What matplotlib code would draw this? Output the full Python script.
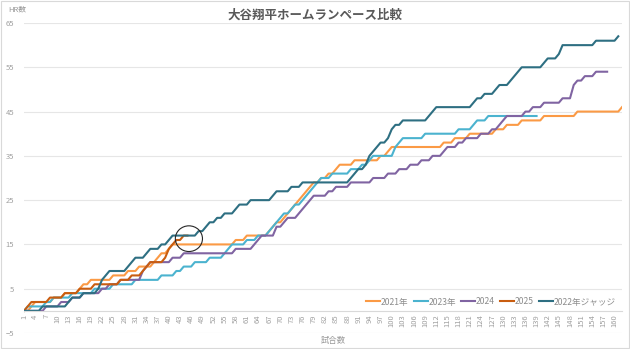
import numpy as np
import matplotlib
matplotlib.use("Agg")
import matplotlib.pyplot as plt
from matplotlib.patches import Ellipse

plt.rcParams['font.family'] = ['Noto Sans CJK JP', 'DejaVu Sans']

# 各シーズンで本塁打を打った試合番号（チーム試合数）
hr_2021 = [3, 4, 9, 12, 16, 17, 19, 25, 29, 32, 36, 37, 38, 40, 41, 58, 61,
           67, 68, 69, 71, 72, 73, 74, 75, 76, 77, 78, 79, 81, 83, 85, 86, 90,
           97, 99, 100, 114, 117, 121, 128, 131, 135, 141, 150, 162]
hr_2023 = [2, 7, 9, 14, 20, 25, 31, 38, 42, 44, 47, 51, 55, 56, 57, 61, 64,
           67, 68, 69, 70, 71, 73, 74, 76, 77, 78, 79, 80, 81, 84, 89, 92, 94,
           95, 101, 101, 102, 103, 109, 118, 122, 123, 126]
hr_2024 = [7, 11, 14, 17, 22, 24, 27, 33, 33, 34, 35, 41, 44, 58, 63, 64, 65,
           69, 69, 71, 72, 75, 76, 77, 78, 79, 83, 85, 89, 95, 99, 102, 105,
           108, 111, 114, 115, 118, 120, 124, 127, 129, 130, 131, 136, 138,
           141, 146, 149, 149, 149, 150, 152, 155]
hr_2025 = [2, 3, 8, 12, 16, 20, 27, 30, 33, 34, 35, 39, 40, 40, 41, 42, 44]
hr_judge = [6, 13, 14, 17, 21, 22, 22, 23, 24, 29, 30, 31, 34, 35, 38, 40, 41,
            48, 50, 51, 53, 55, 58, 59, 62, 68, 69, 73, 76, 89, 90, 91, 93,
            94, 94, 95, 96, 97, 99, 100, 100, 101, 103, 110, 111, 112, 122,
            123, 125, 128, 129, 132, 133, 134, 135, 141, 142, 145, 146, 146,
            155, 161]

# 各系列の最終試合
last_game = {'2021年': 162, '2023年': 139, '2024': 158, '2025': 45,
             '2022年ジャッジ': 161}
colors = {'2021年': '#FB9A45', '2023年': '#4BB3CF', '2024': '#8064A2',
          '2025': '#C95D10', '2022年ジャッジ': '#2E6F82'}
series = {'2021年': hr_2021, '2023年': hr_2023, '2024': hr_2024,
          '2025': hr_2025, '2022年ジャッジ': hr_judge}

fig = plt.figure(figsize=(6.30, 3.49), dpi=100)
ax = fig.add_axes([24 / 630, 1 - 333 / 349, 598 / 630, 310 / 349])

for name, hrs in series.items():
    games = np.arange(1, last_game[name] + 1)
    total = np.searchsorted(np.sort(hrs), games, side='right')
    ax.plot(games, total, color=colors[name], lw=1.5, label=name,
            solid_joinstyle='round')

# 2025年の現在位置を丸で囲む
ax.add_patch(Ellipse((45.4, 16.3), 7.3, 5.8, fill=False, ec='#262626', lw=0.8,
                     zorder=5))

ax.set_xlim(1, 162)
ax.set_ylim(-5, 65)
ax.set_yticks(np.arange(-5, 66, 10))
ax.set_xticks(np.arange(1, 162, 3))
ax.grid(axis='y', color='#E6E6E6', lw=0.8)
ax.set_axisbelow(True)
for s in ['top', 'right', 'left']:
    ax.spines[s].set_visible(False)
ax.spines['bottom'].set_position(('data', 0))
ax.spines['bottom'].set_color('#D9D9D9')
ax.spines['bottom'].set_linewidth(0.8)
ax.tick_params(axis='both', length=0, colors='#A0A0A0', labelsize=5.5)
ax.tick_params(axis='x', rotation=90, pad=2.5)
ax.tick_params(axis='y', pad=7)

fig.text(0.5, 1 - 15 / 349, '大谷翔平ホームランペース比較', ha='center',
         va='center', fontsize=9, fontweight='bold', color='#595959')
fig.text(8 / 630, 1 - 10 / 349, 'HR数', ha='left', va='center',
         fontsize=5.5, color='#999999')
fig.text(333 / 630, 1 - 340 / 349, '試合数', ha='center', va='center',
         fontsize=6, color='#999999')

leg = ax.legend(loc='center right', bbox_to_anchor=(0.995, 7.0 / 70), ncol=5,
                frameon=False, fontsize=6.2, handlelength=1.6,
                handletextpad=0.1, columnspacing=0.6, borderaxespad=0.0)
for t in leg.get_texts():
    t.set_color('#8C8C8C')

# 外枠
fig.patches.append(plt.Rectangle((0.002, 0.003), 0.996, 0.994,
                                 transform=fig.transFigure, fill=False,
                                 ec='#D9D9D9', lw=0.8))

fig.savefig('out.png', dpi=100)
